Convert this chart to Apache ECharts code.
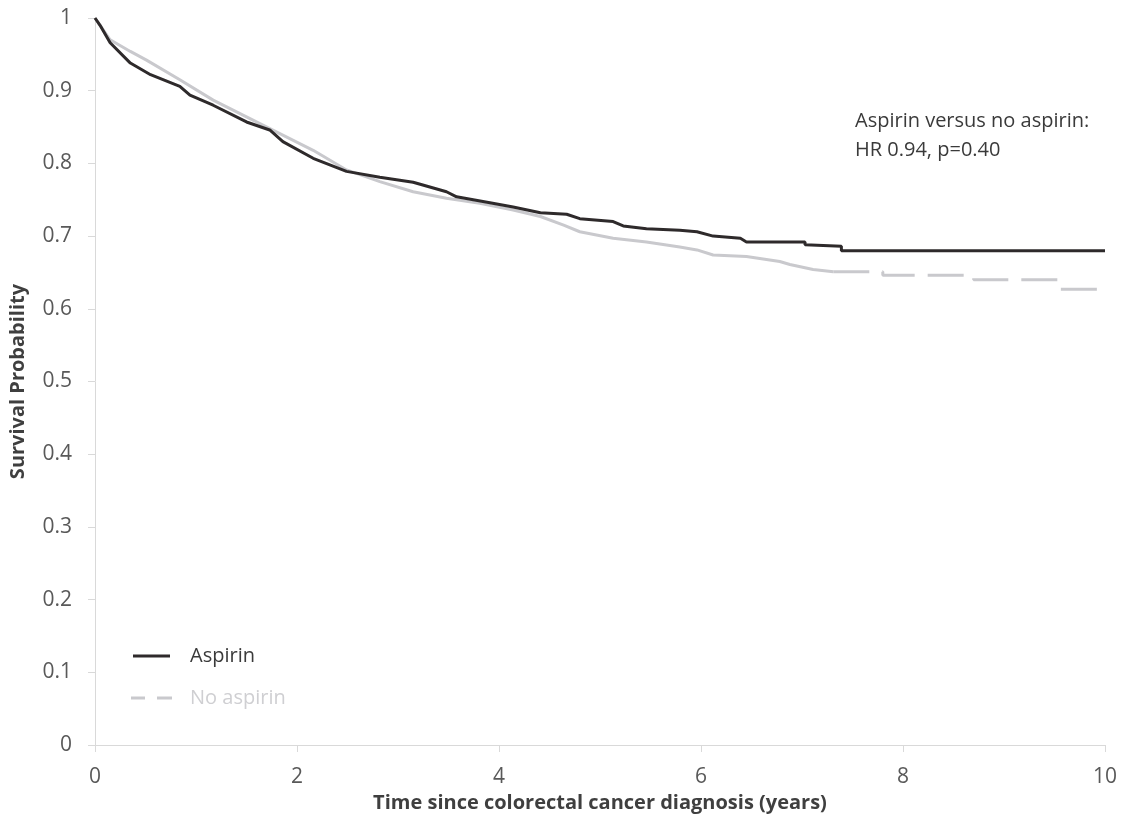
<!DOCTYPE html>
<html>
<head>
<meta charset="utf-8">
<script src="https://cdn.jsdelivr.net/npm/echarts@6/dist/echarts.min.js"></script>
<style>
html,body{margin:0;padding:0;background:#fff;}
#chart{width:1123px;height:822px;}
</style>
</head>
<body>
<div id="chart"></div>
<script>
// Aspirin Kaplan-Meier curve [years, survival]
const aspirin = [
  [0,1.0],[0.05,0.99],[0.15,0.966],[0.35,0.938],[0.55,0.922],[0.84,0.906],[0.94,0.894],
  [1.17,0.880],[1.50,0.857],[1.73,0.846],[1.86,0.830],[2.16,0.807],[2.49,0.789],[2.82,0.781],
  [3.15,0.774],[3.48,0.761],[3.58,0.754],[3.91,0.746],[4.14,0.740],[4.41,0.732],[4.67,0.730],
  [4.80,0.724],[5.13,0.720],[5.23,0.714],[5.46,0.710],[5.79,0.708],[5.96,0.706],[6.12,0.700],
  [6.39,0.697],[6.45,0.692],[7.03,0.692],[7.03,0.688],[7.39,0.686],[7.39,0.680],[10,0.680]
];
// No aspirin curve, early (continuous-looking) part
const noAspirinEarly = [
  [0,1.0],[0.15,0.970],[0.35,0.954],[0.51,0.942],[0.84,0.915],[1.17,0.887],[1.50,0.864],
  [1.83,0.841],[2.16,0.818],[2.49,0.791],[2.82,0.775],[3.15,0.761],[3.48,0.752],[3.81,0.745],
  [4.14,0.736],[4.41,0.727],[4.64,0.715],[4.80,0.706],[5.13,0.697],[5.46,0.692],[5.79,0.685],
  [5.96,0.681],[6.12,0.674],[6.45,0.672],[6.78,0.665],[6.88,0.661],[7.11,0.654],[7.31,0.651]
];
// No aspirin curve, late (dashed) part
const noAspirinLate = [
  [7.31,0.651],[7.80,0.651],[7.80,0.646],[8.70,0.646],[8.70,0.640],[9.54,0.640],[9.54,0.627],[10,0.627]
];
const seriesNames = ['Aspirin','No aspirin'];
const xTicks = [0,2,4,6,8,10];
const annotation = ['Aspirin versus no aspirin:','HR 0.94, p=0.40'];

const FONT = '"Open Sans", sans-serif';
const DARK = '#2e2a2b';
const LIGHT = '#c9c9cd';

const chart = echarts.init(document.getElementById('chart'), null, {renderer:'canvas'});
chart.setOption({
  backgroundColor:'#ffffff',
  animation:false,
  grid:{left:95,right:18,top:18,bottom:77,containLabel:false},
  xAxis:{
    type:'value',min:0,max:10,interval:2,
    name:'Time since colorectal cancer diagnosis (years)',
    nameLocation:'middle',nameGap:42,
    nameTextStyle:{fontFamily:FONT,fontSize:20,fontWeight:'bold',color:'#3f3f3f'},
    axisLine:{show:true,lineStyle:{color:'#d9d9d9',width:1}},
    axisTick:{show:true,inside:false,length:7,lineStyle:{color:'#d9d9d9'}},
    axisLabel:{fontFamily:FONT,fontSize:21,color:'#595959',margin:22,
      formatter:v=>xTicks.includes(v)?String(v):''},
    splitLine:{show:false}
  },
  yAxis:{
    type:'value',min:0,max:1,interval:0.1,
    name:'Survival Probability',
    nameLocation:'middle',nameGap:67,
    nameTextStyle:{fontFamily:FONT,fontSize:20,fontWeight:'bold',color:'#3f3f3f'},
    axisLine:{show:true,lineStyle:{color:'#d9d9d9',width:1}},
    axisTick:{show:true,inside:false,length:7,lineStyle:{color:'#d9d9d9'}},
    axisLabel:{fontFamily:FONT,fontSize:21,color:'#595959',margin:23,
      formatter:v=>(Math.round(v*10)/10).toString()},
    splitLine:{show:false}
  },
  legend:{
    orient:'vertical',left:126,top:641,itemWidth:41,itemHeight:3,itemGap:22,
    textStyle:{fontFamily:FONT,fontSize:20,padding:[0,0,0,13]},
    data:[
      {name:seriesNames[0],icon:'path://M0,0H37V3H0Z',textStyle:{color:'#3a3a3a'},itemStyle:{color:DARK}},
      {name:seriesNames[1],icon:'path://M0,0H14V3H0Z M26,0H41V3H26Z',textStyle:{color:'#cfcfd2'},itemStyle:{color:LIGHT}}
    ]
  },
  graphic:[
    {type:'text',left:855,top:107,style:{text:annotation.join('\n'),fontFamily:FONT,fontSize:20,lineHeight:29,fill:'#3a3a3a'}}
  ],
  series:[
    {name:seriesNames[1],type:'line',data:noAspirinLate,symbol:'none',z:2,
      lineStyle:{color:LIGHT,width:3,type:[36,13]},itemStyle:{color:LIGHT}},
    {name:seriesNames[1],type:'line',data:noAspirinEarly,symbol:'none',z:2,
      lineStyle:{color:LIGHT,width:3,type:'solid'},itemStyle:{color:LIGHT}},
    {name:seriesNames[0],type:'line',data:aspirin,symbol:'none',z:3,
      lineStyle:{color:DARK,width:3},itemStyle:{color:DARK}}
  ]
});
</script>
</body>
</html>
